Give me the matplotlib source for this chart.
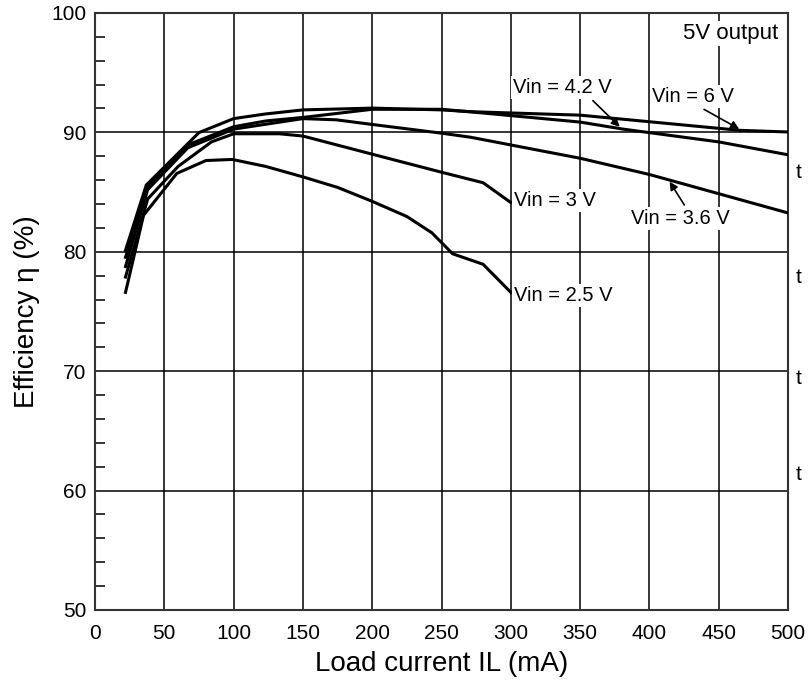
import matplotlib
matplotlib.use("Agg")
import matplotlib.pyplot as plt
from matplotlib.ticker import MultipleLocator

plt.rcParams['font.family'] = ['Liberation Sans', 'DejaVu Sans']

# Efficiency curves (load current mA, efficiency %)
vin25_x = [22, 35, 59, 80, 99, 123, 150, 175, 200, 225, 243, 258, 280, 300]
vin25_y = [76.6, 83.05, 86.56, 87.64, 87.73, 87.15, 86.27, 85.39, 84.22, 82.95, 81.59, 79.83, 78.95, 76.6]

vin3_x = [22, 38, 60, 84, 100, 133, 150, 200, 250, 280, 300]
vin3_y = [77.88, 84.42, 87.15, 89.2, 89.88, 89.88, 89.69, 88.17, 86.66, 85.78, 84.12]

vin36_x = [22, 38, 67, 100, 150, 174, 200, 250, 271, 350, 400, 500]
vin36_y = [78.76, 85.2, 88.71, 90.27, 91.15, 91.05, 90.66, 89.93, 89.59, 87.83, 86.47, 83.25]

vin42_x = [22, 38, 67, 100, 123, 150, 200, 250, 278, 350, 381, 450, 500]
vin42_y = [79.54, 85.49, 88.95, 90.47, 90.95, 91.25, 91.93, 91.93, 91.64, 90.86, 90.27, 89.2, 88.12]

vin6_x = [22, 37, 75, 100, 123, 150, 200, 250, 271, 350, 465, 500]
vin6_y = [80.12, 85.59, 89.98, 91.15, 91.54, 91.88, 92.03, 91.88, 91.73, 91.44, 90.17, 90.03]

x_ticks = [0, 50, 100, 150, 200, 250, 300, 350, 400, 450, 500]
y_ticks = [50, 60, 70, 80, 90, 100]

fig = plt.figure(figsize=(8.08, 6.81), dpi=100)
ax = fig.add_axes([0.1176, 0.1043, 0.8577, 0.8767])

for xs, ys in [(vin25_x, vin25_y), (vin3_x, vin3_y), (vin36_x, vin36_y),
               (vin42_x, vin42_y), (vin6_x, vin6_y)]:
    ax.plot(xs, ys, color='black', lw=2.2, solid_joinstyle='miter', zorder=3)

ax.set_xlim(0, 500)
ax.set_ylim(50, 100)
ax.set_xticks(x_ticks)
ax.set_yticks(y_ticks)
ax.yaxis.set_minor_locator(MultipleLocator(2))
ax.grid(True, which='major', color='black', lw=1.1)
ax.tick_params(axis='both', which='major', length=0, labelsize=15)
ax.tick_params(axis='x', which='major', pad=10)
ax.tick_params(axis='y', which='major', pad=6)
ax.tick_params(axis='y', which='minor', direction='in', length=7, width=1.1)
for s in ax.spines.values():
    s.set_color('#333333')
    s.set_linewidth(1.5)

ax.set_xlabel('Load current IL (mA)', fontsize=20, labelpad=6)
ax.set_ylabel('Efficiency η (%)', fontsize=20, labelpad=8)

box = dict(facecolor='white', edgecolor='none', pad=1.5)
arrow = dict(arrowstyle='-|>', color='black', lw=1.2, mutation_scale=12)

ax.text(493, 98.27, '5V output', fontsize=16, ha='right', va='center', bbox=box, zorder=4)
ax.annotate('Vin = 4.2 V', xy=(380, 90.3), xytext=(301.5, 93.78), fontsize=14.5,
            ha='left', va='center', bbox=box, arrowprops=dict(arrow, relpos=(0.77, 0)), zorder=4)
ax.annotate('Vin = 6 V', xy=(466.5, 90.17), xytext=(402, 93.0), fontsize=14.5,
            ha='left', va='center', bbox=box, arrowprops=dict(arrow, relpos=(0.56, 0)), zorder=4)
ax.annotate('Vin = 3.6 V', xy=(413.5, 86.07), xytext=(386.5, 82.76), fontsize=14.5,
            ha='left', va='center', bbox=box, arrowprops=dict(arrow, relpos=(0.57, 1)), zorder=4)
ax.text(302, 84.32, 'Vin = 3 V', fontsize=14.5, ha='left', va='center', bbox=box, zorder=4)
ax.text(302, 76.32, 'Vin = 2.5 V', fontsize=14.5, ha='left', va='center', bbox=box, zorder=4)

# stray clipped glyphs at the right edge of the original
for py in [172, 277, 378, 475]:
    fig.text(796 / 808, 1 - py / 681, 't', fontsize=15, ha='left', va='center')

fig.savefig('out.png', dpi=100)
